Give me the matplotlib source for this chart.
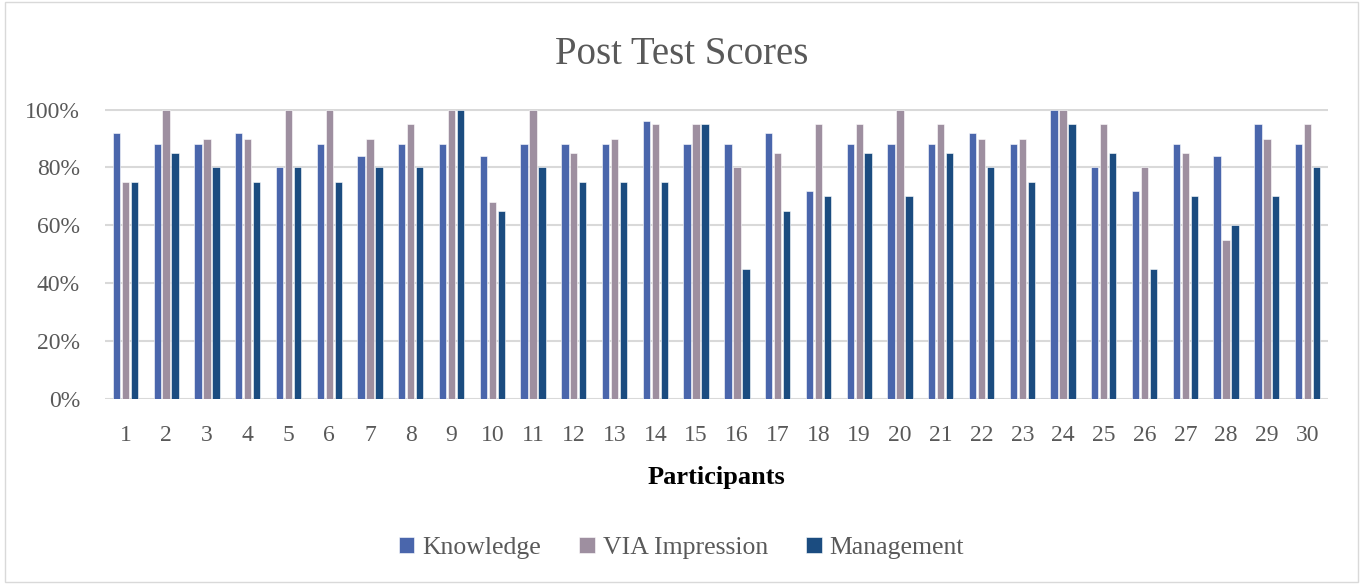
import numpy as np
import matplotlib.pyplot as plt
from matplotlib.ticker import PercentFormatter

plt.rcParams['font.family'] = ['Liberation Serif', 'DejaVu Serif']

# data
participants = [str(i) for i in range(1, 31)]
knowledge = [92, 88, 88, 92, 80, 88, 84, 88, 88, 84, 88, 88, 88, 96, 88,
             88, 92, 72, 88, 88, 88, 92, 88, 100, 80, 72, 88, 84, 95, 88]
via_impression = [75, 100, 90, 90, 100, 100, 90, 95, 100, 68, 100, 85, 90, 95, 95,
                  80, 85, 95, 95, 100, 95, 90, 90, 100, 95, 80, 85, 55, 90, 95]
management = [75, 85, 80, 75, 80, 75, 80, 80, 100, 65, 80, 75, 75, 75, 95,
              45, 65, 70, 85, 70, 85, 80, 75, 95, 85, 45, 70, 60, 70, 80]

series = [('Knowledge', knowledge, '#4A66AC'),
          ('VIA Impression', via_impression, '#9E8FA0'),
          ('Management', management, '#1B4C80')]

txt = '#595959'
fig = plt.figure(figsize=(13.63, 5.84), dpi=100)
ax = fig.add_axes([105/1363, 1-399/584, (1328-105)/1363, 290/584])

x = np.arange(len(participants))
w = 0.18
step = 0.22
for i, (name, vals, col) in enumerate(series):
    ax.bar(x + (i-1)*step, np.array(vals)/100, width=w, color=col,
           edgecolor='white', linewidth=0.4, label=name, zorder=3)

ax.set_xlim(-0.5, len(participants)-0.5)
ax.set_ylim(0, 1.002)
ax.set_yticks(np.arange(0, 1.01, 0.2))
ax.yaxis.set_major_formatter(PercentFormatter(1.0, decimals=0))
ax.set_xticks(x)
ax.set_xticklabels(participants)
ax.grid(axis='y', color='#D9D9D9', linewidth=1.5, zorder=0)
for s in ax.spines.values():
    s.set_visible(False)
ax.tick_params(length=0, labelsize=17, colors=txt)
ax.tick_params(axis='x', pad=19)
ax.tick_params(axis='y', pad=18)

ax.set_xlabel('Participants', fontsize=19, fontweight='bold', color='black', labelpad=14)
fig.text(0.5, 1-54/584, 'Post Test Scores', ha='center', va='center', fontsize=28, color=txt)

leg = fig.legend(loc='center', bbox_to_anchor=(0.5, 1-548/584), ncol=3, frameon=False,
                 fontsize=18.5, handlelength=0.6, handleheight=0.6, columnspacing=1.5,
                 handletextpad=0.3)
for t in leg.get_texts():
    t.set_color(txt)

fig.patches.append(plt.Rectangle((0.004, 0.004), 0.992, 0.992, transform=fig.transFigure,
                                 fill=False, edgecolor='#D9D9D9', linewidth=1))

fig.savefig('out.png', dpi=100)
